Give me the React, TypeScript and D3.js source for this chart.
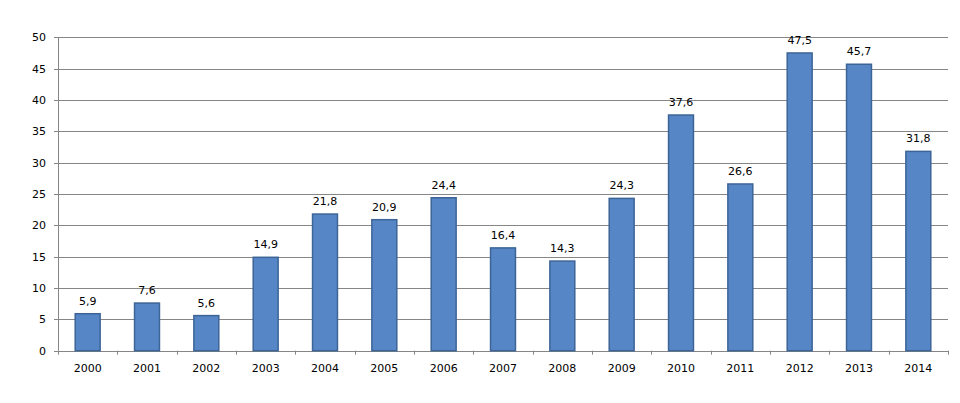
import React from "react";
import * as d3 from "d3";

const years = ["2000","2001","2002","2003","2004","2005","2006","2007","2008","2009","2010","2011","2012","2013","2014"];
const values = [5.9,7.6,5.6,14.9,21.8,20.9,24.4,16.4,14.3,24.3,37.6,26.6,47.5,45.7,31.8];
const yTicks = [0,5,10,15,20,25,30,35,40,45,50];

export default function App() {
  const W = 960, H = 403;
  const left = 58, right = 948, top = 37.3, bottom = 350.7;
  const x = d3.scaleBand<string>().domain(years).range([left, right]).paddingInner(0.58).paddingOuter(0.29);
  const y = d3.scaleLinear().domain([0, 50]).range([bottom, top]);
  const step = (right - left) / years.length;
  const font = "Verdana, 'DejaVu Sans', sans-serif";
  return (
    <svg width={W} height={H} style={{ position: "absolute", left: 0, top: 0, background: "#fff" }}>
      {yTicks.map(t => (
        <g key={t}>
          <line x1={left - 4} x2={right} y1={Math.round(y(t)) + 0.5} y2={Math.round(y(t)) + 0.5} stroke="#868686" strokeWidth={1} />
          <text x={46} y={y(t) + 4} textAnchor="end" fontFamily={font} fontSize={11} fill="#000">{t}</text>
        </g>
      ))}
      <line x1={left + 0.5} x2={left + 0.5} y1={top} y2={bottom} stroke="#868686" />
      {d3.range(years.length + 1).map(i => (
        <line key={i} x1={Math.round(left + i * step) + 0.5} x2={Math.round(left + i * step) + 0.5} y1={bottom} y2={bottom + 4} stroke="#868686" />
      ))}
      {years.map((yr, i) => {
        const bx = x(yr)!;
        const bw = x.bandwidth();
        const v = values[i];
        return (
          <g key={yr}>
            <rect x={bx} y={y(v)} width={bw} height={bottom - y(v)} fill="#5686C6" stroke="#3C6496" strokeWidth={1.5} />
            <text x={bx + bw / 2} y={y(v) - 9} textAnchor="middle" fontFamily={font} fontSize={11} fill="#000">{String(v).replace(".", ",")}</text>
            <text x={bx + bw / 2} y={372} textAnchor="middle" fontFamily={font} fontSize={11} fill="#000">{yr}</text>
          </g>
        );
      })}
    </svg>
  );
}
